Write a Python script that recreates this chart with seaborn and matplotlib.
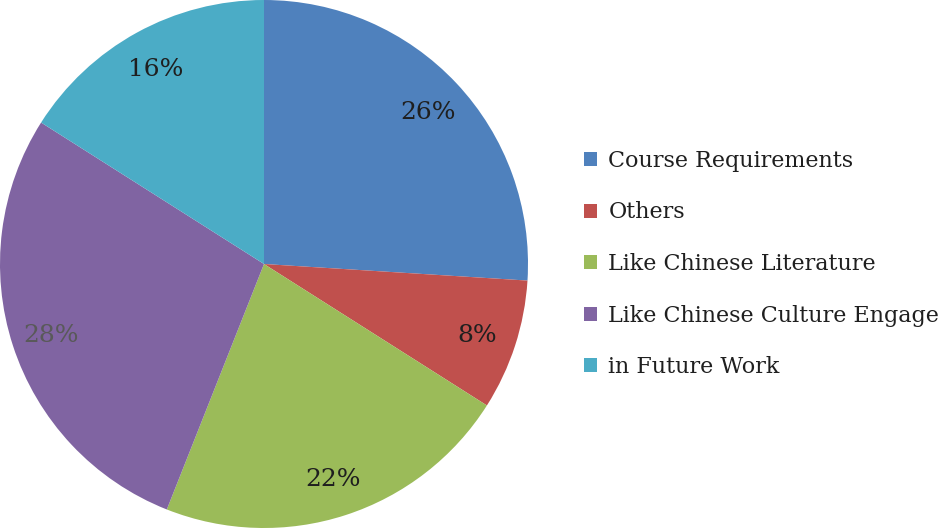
import matplotlib.pyplot as plt
import seaborn as sns

# slice data, clockwise from 12 o'clock
categories = ["Course Requirements", "Others", "Like Chinese Literature",
              "Like Chinese Culture Engage", "in Future Work"]
shares = [26, 8, 22, 28, 16]
colors = ["#4F81BD", "#C0504D", "#9BBB59", "#8064A2", "#4BACC6"]
label_colors = ["#1f1f1f", "#1f1f1f", "#1f1f1f", "#595959", "#1f1f1f"]

sns.set_style("white")
plt.rcParams['font.family'] = ['DejaVu Serif']

fig = plt.figure(figsize=(9.5, 5.28), dpi=100)
ax = fig.add_axes([0, 0, 528 / 950, 1])

wedges, texts, autotexts = ax.pie(
    shares, colors=colors, startangle=90, counterclock=False,
    autopct="%d%%", pctdistance=0.85, radius=1.0,
    wedgeprops=dict(linewidth=0),
    textprops=dict(fontsize=18))
for t, c in zip(autotexts, label_colors):
    t.set_color(c)
    t.set_va("center_baseline")
ax.set_xlim(-1, 1)
ax.set_ylim(-1, 1)
ax.set_aspect("equal")

leg = fig.legend(wedges, categories, loc="center left",
                 bbox_to_anchor=(0.603, 0.5), frameon=False,
                 fontsize=16, handlelength=0.6, handleheight=0.6,
                 handletextpad=0.5, labelspacing=1.33, borderpad=0)
for t in leg.get_texts():
    t.set_color("#1f1f1f")

fig.savefig("out.png", dpi=100)
